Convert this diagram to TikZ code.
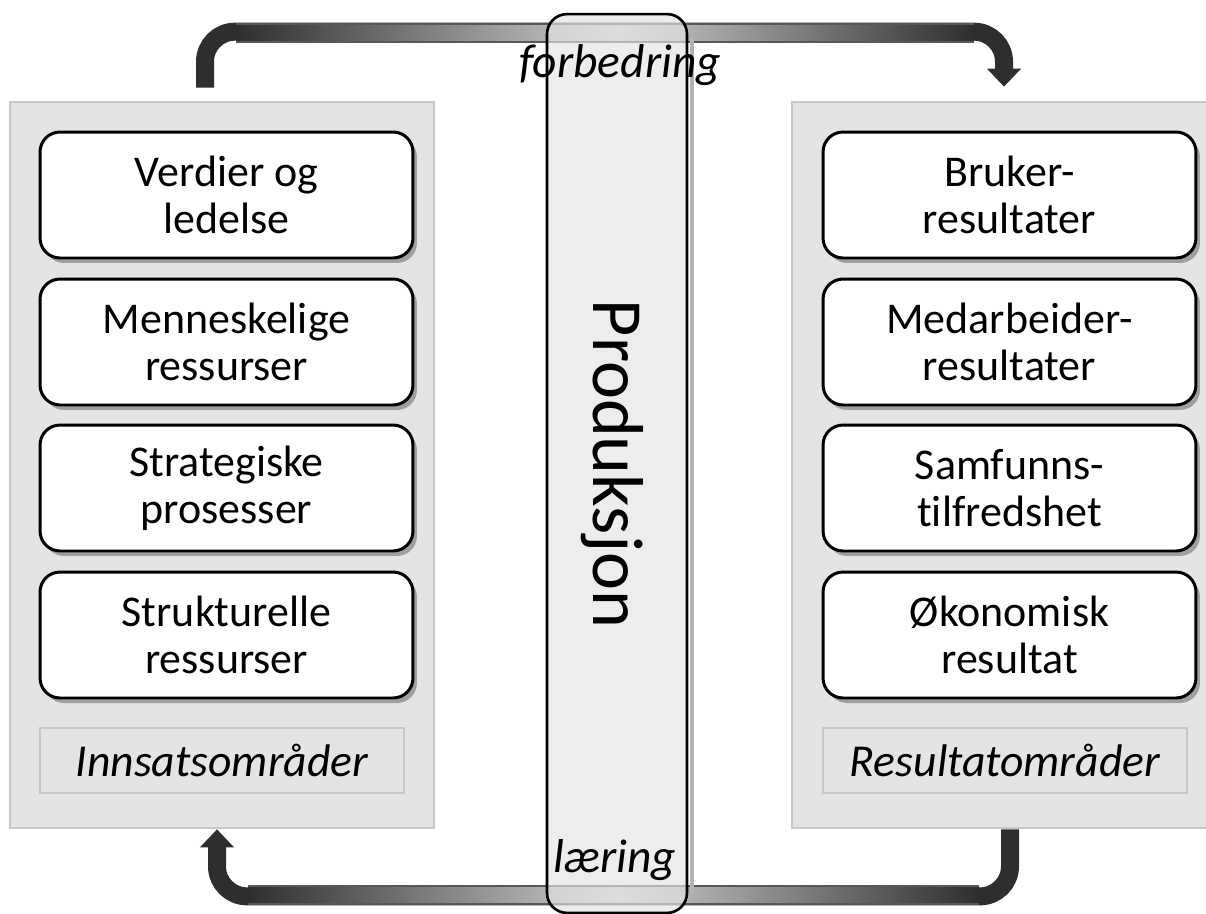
\documentclass[tikz,border=0pt]{standalone}
\usepackage{fontspec}
\setmainfont{Carlito}[Ligatures=NoCommon]
\usetikzlibrary{arrows.meta,shadows}
\definecolor{panelgray}{HTML}{E4E4E4}
\definecolor{panelline}{HTML}{C8C8C8}
\definecolor{flowdark}{HTML}{2E2E2E}
\definecolor{flowlight}{HTML}{D0D0D0}
\tikzset{
  panel/.style={draw=panelline, line width=1.6pt, fill=panelgray},
  areabox/.style={draw, line width=1.7pt, fill=white, rounded corners=0.4cm, minimum width=7.46cm, minimum height=2.52cm, align=center, font=\fontsize{25}{27}\selectfont, drop shadow={shadow xshift=0.08cm, shadow yshift=-0.1cm, fill=black, opacity=0.3}},
  arealabel/.style={draw=panelline, line width=1.2pt, fill=panelgray, minimum width=7.28cm, minimum height=1.3cm, font=\fontsize{26}{28}\selectfont\itshape},
  flow/.style={draw=flowdark, line width=0.36cm, rounded corners=0.6cm, -{Triangle[width=0.66cm,length=0.36cm]}},
  looplabel/.style={anchor=base, font=\fontsize{27}{29}\selectfont\itshape},
}
\begin{document}
\begin{tikzpicture}[x=0.02cm, y=-0.02cm]
  \useasboundingbox (0,0) rectangle (1206,913);
  \node[panel, minimum width=8.48cm, minimum height=14.52cm] (innpanel) at (222,465) {};
  \node[panel, minimum width=8.56cm, minimum height=14.52cm] (respanel) at (1006,465) {};
  \node[arealabel] (innlabel) at (222,760.5) {Innsatsområder};
  \node[arealabel] (reslabel) at (1005,760.5) {Resultatområder};
  \foreach \n/\y/\l/\r in {1/195/{Verdier og\\ledelse}/{Bruker-\\resultater}, 2/342/{Menneskelige\\ressurser}/{Medarbeider-\\resultater}, 3/488/{Strategiske\\prosesser}/{Samfunns-\\tilfredshet}, 4/635/{Strukturelle\\ressurser}/{Økonomisk\\resultat}} {
    \node[areabox] (inn\n) at (226.5,\y) {\l};
    \node[areabox] (res\n) at (1009.5,\y) {\r};
  }
  % forbedring: inn -> res over the top
  \draw[flow] ([xshift=-0.34cm,yshift=0.26cm]innpanel.north) -- ++(0,-56) -| ([xshift=-0.04cm,yshift=0.28cm]respanel.north);
  \shade[left color=flowdark, right color=flowlight] (236,24) rectangle (617,42);
  \shade[left color=flowlight, right color=flowdark] (617,24) rectangle (974,42);
  \draw[flowdark!80, line width=0.6pt] (236,24) -- (974,24) (236,42) -- (974,42);
  % laering: res -> inn under the bottom
  \draw[flow] ([xshift=0.08cm]respanel.south) -- ++(0,67) -| ([xshift=-0.1cm]innpanel.south);
  \shade[left color=flowdark, right color=flowlight] (248,886) rectangle (617,904);
  \shade[left color=flowlight, right color=flowdark] (617,886) rectangle (979,904);
  \draw[flowdark!80, line width=0.6pt] (248,886) -- (979,886) (248,904) -- (979,904);
  \node[draw, line width=1.5pt, rounded corners=0.4cm, fill=panelgray, fill opacity=0.65, minimum width=2.8cm, minimum height=17.98cm] (prod) at (617,463.5) {};
  \draw[black!30, line width=0.08cm] ([xshift=0.07cm,yshift=-0.5cm]prod.north east) -- ([xshift=0.07cm,yshift=0.4cm]prod.south east); % shadow
  \node[rotate=-90, anchor=base, font=\fontsize{41}{41}\selectfont] (prodtext) at (593,464) {Produksjon};
  \node[looplabel] (forbedring) at (620,77) {forbedring};
  \node[looplabel] (laering) at (615,872) {læring};
\end{tikzpicture}
\end{document}
